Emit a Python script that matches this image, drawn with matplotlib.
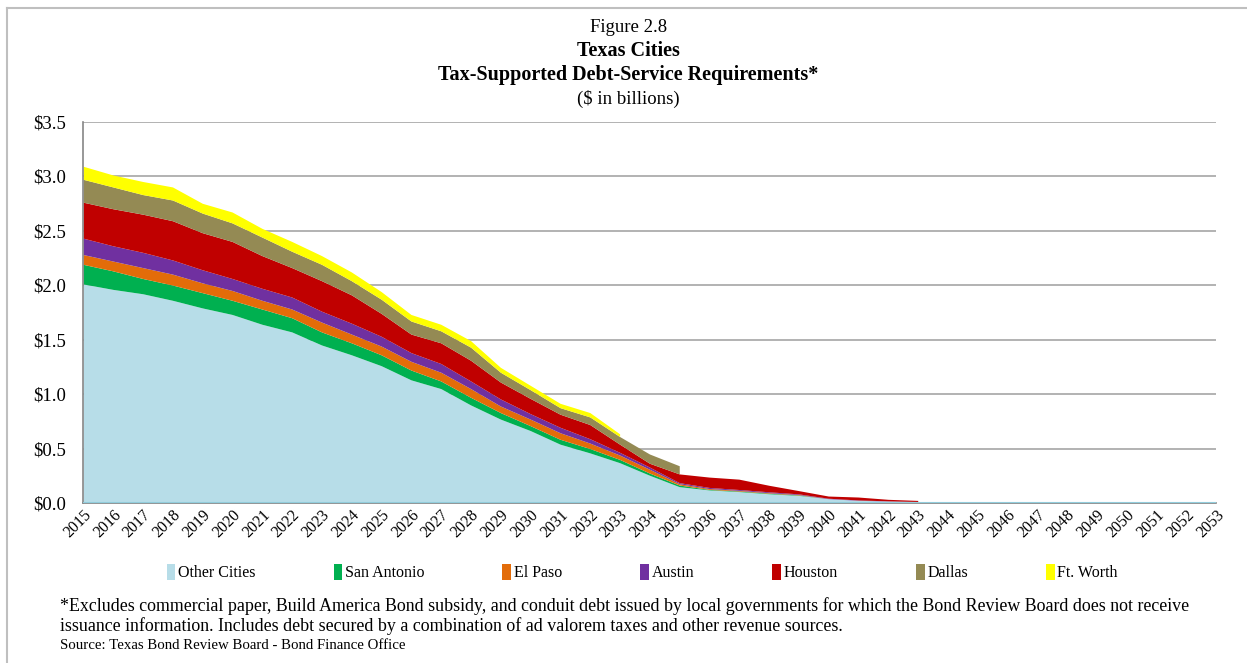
import numpy as np
import matplotlib.pyplot as plt
from matplotlib.lines import Line2D
from matplotlib.patches import Patch

plt.rcParams['font.family'] = ['Liberation Serif', 'DejaVu Serif']

years = list(range(2015, 2054))
nan = np.nan

# values in $ billions, one per year 2015..2053 (NaN = series has ended)
other_cities = [2.01, 1.96, 1.92, 1.86, 1.79, 1.73, 1.64, 1.57, 1.45, 1.36,
                1.26, 1.13, 1.05, 0.90, 0.77, 0.665, 0.54, 0.46, 0.37, 0.255,
                0.15, 0.12, 0.105, 0.085, 0.07, 0.04, 0.025, 0.018, 0.012, 0.008,
                0.007, 0.006, 0.006, 0.005, 0.005, 0.005, 0.004, 0.004, 0.004]
san_antonio = [0.18, 0.17, 0.14, 0.14, 0.14, 0.13, 0.14, 0.13, 0.12, 0.11,
               0.10, 0.09, 0.07, 0.07, 0.06, 0.045, 0.045, 0.04, 0.03, 0.02,
               0.015, 0.005, 0.005, 0.005, 0.004, 0.0, 0.0, 0.0, 0.0, 0.0,
               0.0, 0.0, 0.0, 0.0, 0.0, 0.0, 0.0, 0.0, 0.0]
el_paso = [0.09, 0.09, 0.10, 0.10, 0.09, 0.09, 0.08, 0.08, 0.09, 0.08,
           0.08, 0.08, 0.08, 0.08, 0.06, 0.06, 0.06, 0.05, 0.04, 0.035,
           0.012, 0.008, 0.006, 0.005, 0.004, 0.0, 0.0, 0.0, 0.0, 0.0,
           0.0, 0.0, 0.0, 0.0, 0.0, 0.0, 0.0, 0.0, 0.0]
austin = [0.15, 0.14, 0.14, 0.13, 0.12, 0.11, 0.11, 0.11, 0.10, 0.10,
          0.09, 0.08, 0.08, 0.07, 0.065, 0.05, 0.05, 0.04, 0.025, 0.02,
          0.01, 0.01, 0.008, 0.008, 0.006, 0.004, 0.003, 0.002, 0.002, 0.0,
          0.0, 0.0, 0.0, 0.0, 0.0, 0.0, 0.0, 0.0, 0.0]
houston = [0.33, 0.34, 0.35, 0.36, 0.34, 0.34, 0.30, 0.27, 0.28, 0.26,
           0.21, 0.17, 0.19, 0.19, 0.155, 0.14, 0.12, 0.13, 0.075, 0.035,
           0.08, 0.095, 0.095, 0.06, 0.03, 0.02, 0.027, 0.014, 0.01, nan,
           nan, nan, nan, nan, nan, nan, nan, nan, nan]
dallas = [0.21, 0.20, 0.18, 0.19, 0.18, 0.17, 0.17, 0.15, 0.15, 0.13,
          0.13, 0.12, 0.11, 0.12, 0.09, 0.08, 0.06, 0.07, 0.07, 0.085,
          0.075, nan, nan, nan, nan, nan, nan, nan, nan, nan,
          nan, nan, nan, nan, nan, nan, nan, nan, nan]
ft_worth = [0.12, 0.11, 0.12, 0.12, 0.09, 0.10, 0.08, 0.09, 0.08, 0.08,
            0.07, 0.06, 0.06, 0.06, 0.045, 0.04, 0.04, 0.04, 0.025, nan,
            nan, nan, nan, nan, nan, nan, nan, nan, nan, nan,
            nan, nan, nan, nan, nan, nan, nan, nan, nan]

series = [
    ('Other Cities', other_cities, '#B7DDE8'),
    ('San Antonio', san_antonio, '#00B050'),
    ('El Paso', el_paso, '#E36C09'),
    ('Austin', austin, '#7030A0'),
    ('Houston', houston, '#C00000'),
    ('Dallas', dallas, '#948A54'),
    ('Ft. Worth', ft_worth, '#FFFF00'),
]

fig = plt.figure(figsize=(12.47, 6.63), dpi=100)
ax = fig.add_axes([0.0666, 0.2413, 0.9084, 0.5754])

x = np.array(years)
base = np.zeros(len(years))
handles = []
for name, vals, color in series:
    v = np.array(vals, dtype=float)
    top = base + v
    ax.fill_between(x, base, top, color=color, linewidth=0, zorder=2)
    base = base + np.nan_to_num(v)
    handles.append(Patch(facecolor=color, edgecolor='none', label=name))

# thin blue line along the bottom like the original
ax.plot(x, np.full(len(x), 0.004), color='#92CDDC', linewidth=1.5, zorder=3)

ax.set_xlim(2015, 2053)
ax.set_ylim(0, 3.5)
ax.set_yticks(np.arange(0, 3.51, 0.5))
ax.set_yticklabels(['$%.1f' % t for t in np.arange(0, 3.51, 0.5)], fontsize=13.5)
ax.set_xticks(years)
ax.set_xticklabels([str(y) for y in years], rotation=45, ha='right',
                   rotation_mode='anchor', fontsize=11.5)
ax.tick_params(axis='y', length=0, pad=12)
ax.tick_params(axis='x', length=0, pad=3)
ax.grid(axis='y', color='#A6A6A6', linewidth=1.2, zorder=0)
ax.set_axisbelow(True)
for s in ['top', 'right']:
    ax.spines[s].set_visible(False)
for s in ['left', 'bottom']:
    ax.spines[s].set_color('#868686')
    ax.spines[s].set_linewidth(1.2)

# titles
fig.text(0.504, 0.958, 'Figure 2.8', ha='center', va='center', fontsize=13.5)
fig.text(0.504, 0.923, 'Texas Cities', ha='center', va='center', fontsize=14.5,
         fontweight='bold')
fig.text(0.504, 0.887, 'Tax-Supported Debt-Service Requirements*', ha='center',
         va='center', fontsize=14.5, fontweight='bold')
fig.text(0.504, 0.851, '($ in billions)', ha='center', va='center', fontsize=13.5)

fig.legend(handles=handles, loc='center', bbox_to_anchor=(0.515, 0.136), ncol=7,
           frameon=False, fontsize=11.5, handlelength=0.55, handleheight=1.1,
           handletextpad=0.15, columnspacing=4.9)

fig.text(0.048, 0.086, '*Excludes commercial paper, Build America Bond subsidy, and conduit debt '
         'issued by local governments for which the Bond Review Board does not receive',
         ha='left', va='center', fontsize=12.9)
fig.text(0.048, 0.055, 'issuance information. Includes debt secured by a combination of ad '
         'valorem taxes and other revenue sources.', ha='left', va='center', fontsize=12.9)
fig.text(0.048, 0.027, 'Source: Texas Bond Review Board - Bond Finance Office',
         ha='left', va='center', fontsize=10.7)

# outer frame (left and top edges visible)
fig.add_artist(Line2D([0.0056, 0.0056], [0, 0.988], transform=fig.transFigure,
                      color='#BFBFBF', linewidth=1.5))
fig.add_artist(Line2D([0.0056, 1.0], [0.988, 0.988], transform=fig.transFigure,
                      color='#BFBFBF', linewidth=1.5))

fig.savefig('out.png', dpi=100)
